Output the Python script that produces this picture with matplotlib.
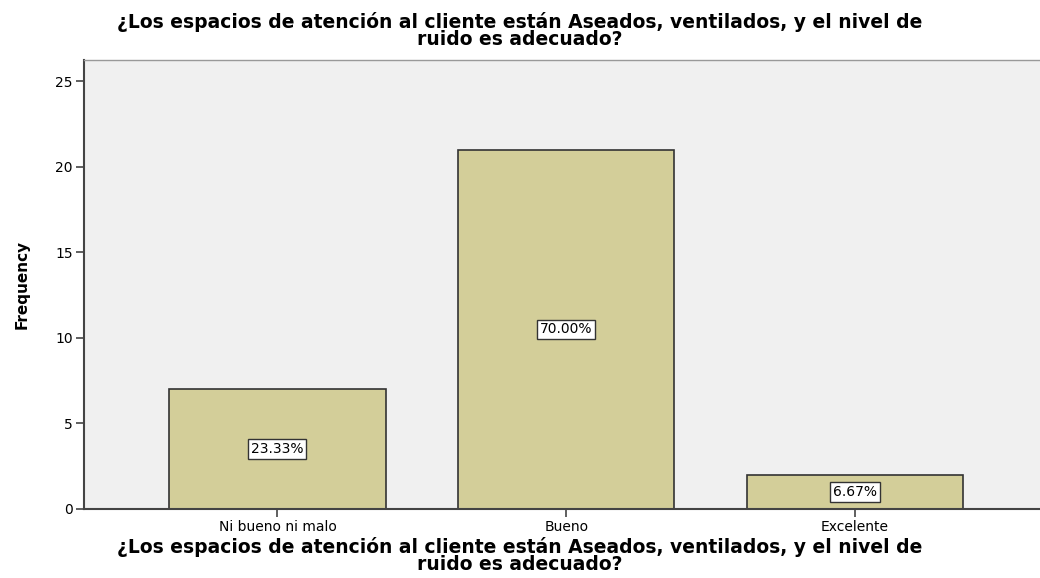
import matplotlib.pyplot as plt

# Chart data
categories = ['Ni bueno ni malo', 'Bueno', 'Excelente']
frequencies = [7, 21, 2]
percent_labels = ['23.33%', '70.00%', '6.67%']
y_ticks = [0, 5, 10, 15, 20, 25]

title_text = '¿Los espacios de atención al cliente están Aseados, ventilados, y el nivel de\nruido es adecuado?'

fig = plt.figure(figsize=(10.4, 5.78), dpi=100)
ax = fig.add_axes([0.0808, 0.1194, 0.93, 0.777])
ax.set_facecolor('#F0F0F0')

x = list(range(len(categories)))
ax.bar(x, frequencies, width=0.75, color='#D3CE99', edgecolor='#333333', linewidth=1.2, zorder=2)

for xi, freq, lab in zip(x, frequencies, percent_labels):
    ax.text(xi, freq / 2, lab, ha='center', va='center', fontsize=10, family='DejaVu Sans',
            bbox=dict(boxstyle='square,pad=0.2', facecolor='white', edgecolor='#333333', linewidth=1),
            zorder=3)

ax.set_xlim(-0.67, 2.68)
ax.set_ylim(0, 26.25)
ax.set_xticks(x)
ax.set_xticklabels(categories, fontsize=10, family='DejaVu Sans')
ax.set_yticks(y_ticks)
ax.set_yticklabels([str(t) for t in y_ticks], fontsize=10, family='DejaVu Sans')
ax.tick_params(axis='both', direction='out', length=6, width=1.2, color='#444444', pad=2)

for side in ['left', 'bottom']:
    ax.spines[side].set_linewidth(1.5)
    ax.spines[side].set_color('#444444')
ax.spines['top'].set_color('#999999')
ax.spines['top'].set_linewidth(1)
ax.spines['right'].set_visible(False)

ax.set_ylabel('Frequency', fontsize=11, fontweight='bold', family='DejaVu Sans')
ax.yaxis.set_label_coords(-0.056, 0.5)
ax.set_xlabel(title_text, fontsize=13.5, fontweight='bold', family='DejaVu Sans', linespacing=0.88)
ax.xaxis.set_label_coords(0.5 * 1040 / 967 - 0.0808 / 0.93, -0.062)

fig.text(0.5, 0.98, title_text, ha='center', va='top', fontsize=13.5, fontweight='bold',
         family='DejaVu Sans', linespacing=0.88)

fig.savefig('out.png', dpi=100)
